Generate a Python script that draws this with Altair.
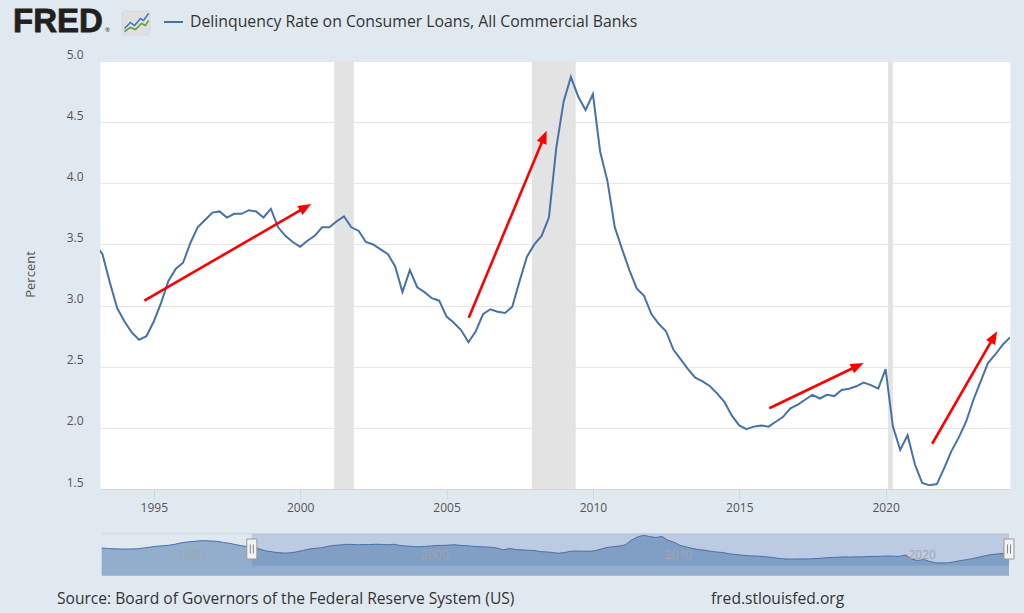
import math
import altair as alt
import pandas as pd

# Delinquency rate on consumer loans, all commercial banks (percent, quarterly, 1993Q1-2024Q2)
rate = [
    3.50, 3.42, 3.19, 2.98,   # 1993
    2.87, 2.78, 2.72, 2.75,   # 1994
    2.87, 3.02, 3.20, 3.30,   # 1995
    3.35, 3.51, 3.64, 3.70,   # 1996
    3.76, 3.77, 3.72, 3.75,   # 1997
    3.75, 3.78, 3.77, 3.72,   # 1998
    3.79, 3.64, 3.57, 3.52,   # 1999
    3.48, 3.53, 3.57, 3.64,   # 2000
    3.64, 3.69, 3.73, 3.64,   # 2001
    3.61, 3.52, 3.50, 3.46,   # 2002
    3.42, 3.32, 3.11, 3.29,   # 2003
    3.15, 3.11, 3.06, 3.04,   # 2004
    2.91, 2.86, 2.80, 2.70,   # 2005
    2.79, 2.93, 2.97, 2.95,   # 2006
    2.94, 2.99, 3.20, 3.40,   # 2007
    3.50, 3.57, 3.72, 4.29,   # 2008
    4.67, 4.87, 4.71, 4.60,   # 2009
    4.73, 4.26, 4.02, 3.64,   # 2010
    3.46, 3.29, 3.14, 3.08,   # 2011
    2.93, 2.85, 2.79, 2.64,   # 2012
    2.56, 2.48, 2.41, 2.38,   # 2013
    2.34, 2.28, 2.21, 2.10,   # 2014
    2.02, 1.99, 2.01, 2.02,   # 2015
    2.01, 2.05, 2.09, 2.16,   # 2016
    2.19, 2.23, 2.27, 2.24,   # 2017
    2.27, 2.26, 2.31, 2.32,   # 2018
    2.34, 2.37, 2.35, 2.32,   # 2019
    2.48, 2.01, 1.82, 1.94,   # 2020
    1.70, 1.55, 1.53, 1.54,   # 2021
    1.67, 1.81, 1.92, 2.05,   # 2022
    2.23, 2.38, 2.53, 2.60,   # 2023
    2.68, 2.74,               # 2024
]

# Earlier history, only visible in the range navigator (1987Q1-1992Q4)
early_rate = [
    3.33, 3.28, 3.24, 3.21,
    3.21, 3.22, 3.25, 3.35,
    3.45, 3.55, 3.60, 3.66,
    3.78, 3.95, 4.06, 4.12,
    4.20, 4.22, 4.18, 4.14,
    4.00, 3.90, 3.75, 3.60,
]

# Recessions (shaded)
recession_start = ["2001-03-01", "2007-12-01", "2020-02-01"]
recession_end = ["2001-11-01", "2009-06-01", "2020-04-01"]

# Trend arrows
arrow_from_date = ["1994-09-05", "2005-10-05", "2016-01-11", "2021-08-04"]
arrow_from_value = [3.04, 2.90, 2.16, 1.87]
arrow_to_date = ["2000-05-18", "2008-06-03", "2019-04-01", "2023-10-23"]
arrow_to_value = [3.83, 4.43, 2.53, 2.79]

year_ticks = [1995, 2000, 2005, 2010, 2015, 2020]
nav_ticks = [1990, 2000, 2010, 2020]
y_ticks = [1.5, 2.0, 2.5, 3.0, 3.5, 4.0, 4.5, 5.0]

view_start = "1993-03-01"
view_end = "2024-04-01"
nav_start = "1987-01-01"

PLOT_W, PLOT_H = 910, 428
Y_LO, Y_HI = 1.5, 5.0
LINE_BLUE = "#4572a7"
TEXT = "#555555"

dates = pd.date_range("1993-01-01", periods=len(rate), freq="QS")
series = pd.DataFrame({"date": dates.strftime("%Y-%m-%d"), "rate": rate})

nav_dates = pd.date_range(nav_start, periods=len(early_rate) + len(rate), freq="QS")
nav_series = pd.DataFrame({"date": nav_dates.strftime("%Y-%m-%d"), "rate": early_rate + rate})

recessions = pd.DataFrame({"start": recession_start, "end": recession_end})

# arrow geometry: shaft stops under the head, head rotated along the shaft
x_lo, x_hi = pd.Timestamp(view_start), pd.Timestamp(view_end)


def px(t):
    return (pd.Timestamp(t) - x_lo) / (x_hi - x_lo) * PLOT_W


def py(v):
    return (Y_HI - v) / (Y_HI - Y_LO) * PLOT_H


HEAD = 13
rows = []
for t0, v0, t1, v1 in zip(arrow_from_date, arrow_from_value, arrow_to_date, arrow_to_value):
    dx = px(t1) - px(t0)
    dy = py(v1) - py(v0)
    length = math.hypot(dx, dy)
    frac = (length - HEAD * 0.75) / length
    a, b = pd.Timestamp(t0), pd.Timestamp(t1)
    rows.append({
        "t0": t0, "v0": v0, "t1": t1, "v1": v1,
        "tb": (a + (b - a) * frac).strftime("%Y-%m-%d"),
        "vb": v0 + (v1 - v0) * frac,
        "angle": math.degrees(math.atan2(dx, -dy)) % 360,
    })
arrows = pd.DataFrame(rows)


def dt(s):
    t = pd.Timestamp(s)
    return alt.DateTime(year=t.year, month=t.month, date=t.day)


x_scale = alt.Scale(domain=[dt(view_start), dt(view_end)])
y_scale = alt.Scale(domain=[Y_LO, Y_HI], nice=False, zero=False)

x_axis = alt.Axis(
    values=[alt.DateTime(year=y, month=1, date=1) for y in year_ticks],
    format="%Y", title=None, grid=False,
    domainColor="#ccd6eb", tickColor="#ccd6eb", tickSize=10,
    labelPadding=3, labelColor=TEXT, labelFontSize=12, labelFlush=False,
)
y_axis = alt.Axis(
    values=y_ticks, format=".1f", title="Percent",
    grid=True, gridColor="#e6e6e6", domain=False, ticks=False,
    labelPadding=17, labelOffset=-7, labelColor=TEXT, labelFontSize=12,
    labelFlush=False,
    titleX=-70, titleY=213, titleAngle=270, titleAlign="center", titleBaseline="middle",
    titleColor=TEXT, titleFontSize=13, titleFontWeight="normal",
)


def X(field):
    return alt.X(field, type="temporal", scale=x_scale, axis=x_axis)


def Y(field):
    return alt.Y(field, type="quantitative", scale=y_scale, axis=y_axis)


recession_layer = alt.Chart(recessions).mark_rect(color="#e3e3e3").encode(
    x=X("start"), x2="end"
)

line_layer = alt.Chart(series).mark_line(color=LINE_BLUE, strokeWidth=2, clip=True).encode(
    x=X("date"), y=Y("rate")
)

shaft_layer = alt.Chart(arrows).mark_rule(color="#ff0000", strokeWidth=2.6).encode(
    x=X("t0"), y=Y("v0"), x2="tb", y2="vb"
)

head_layer = alt.Chart(arrows).mark_point(
    shape="M0,0L0.4,1L-0.4,1Z", filled=True, fill="#ff0000", strokeWidth=0,
    size=(2 * HEAD) ** 2, opacity=1,
).encode(x=X("t1"), y=Y("v1"), angle=alt.Angle("angle:Q", scale=None))

main = alt.layer(recession_layer, line_layer, shaft_layer, head_layer)

# ---- range navigator under the plot ----
NAV_TOP, NAV_BOT = 472.7, 504.7
nav_x = alt.Scale(domain=[dt(nav_start), dt(view_end)], range=[1.7, 909])
nav_y = alt.Scale(domain=[1.2, 5.06], range=[NAV_BOT, NAV_TOP], nice=False, zero=False)

window = pd.DataFrame({"start": [view_start], "end": [view_end]})
edges = pd.DataFrame({"date": [view_start, view_end]})
nav_labels = pd.DataFrame({"date": [f"{y}-01-01" for y in nav_ticks], "label": [str(y) for y in nav_ticks]})


def NX(field):
    return alt.X(field, type="temporal", scale=nav_x, axis=None)


nav_outline = alt.Chart(window).mark_rule(color="#cfd6de", strokeWidth=1).encode(
    x=alt.value(1.7), x2=alt.value(909), y=alt.value(NAV_TOP)
)
nav_mask = alt.Chart(window).mark_rect(color="#6685c2", opacity=0.3).encode(
    x=NX("start"), x2="end", y=alt.value(NAV_TOP), y2=alt.value(NAV_BOT)
)
nav_area = alt.Chart(nav_series).mark_area(color=LINE_BLUE, opacity=0.5).encode(
    x=NX("date"), y=alt.Y("rate:Q", scale=nav_y, axis=None), y2=alt.value(NAV_BOT)
)
nav_line = alt.Chart(nav_series).mark_line(color=LINE_BLUE, strokeWidth=1).encode(
    x=NX("date"), y=alt.Y("rate:Q", scale=nav_y, axis=None)
)
nav_text = alt.Chart(nav_labels).mark_text(
    align="left", baseline="middle", dx=3, fontSize=12, color="#9ea6b0"
).encode(x=NX("date"), y=alt.value(494), text="label:N")
nav_handle = alt.Chart(edges).mark_point(
    shape="M-0.5,-1H0.5V1H-0.5Z", filled=True, fill="#f2f2f2", stroke="#999999",
    strokeWidth=1, size=400, opacity=1,
).encode(x=NX("date"), y=alt.value(488))
nav_grip = alt.Chart(edges).mark_point(
    shape="M-0.15,-0.45V0.45M0.15,-0.45V0.45", filled=False, stroke="#888888",
    strokeWidth=1, size=400, opacity=1,
).encode(x=NX("date"), y=alt.value(488))

navigator = alt.layer(nav_outline, nav_mask, nav_area, nav_line, nav_text, nav_handle, nav_grip)

# ---- header and footer ----
def label(text, x, y, **kw):
    return alt.Chart(pd.DataFrame({"t": [text]})).mark_text(**kw).encode(
        x=alt.value(x), y=alt.value(y), text="t:N"
    )


logo = label("FRED", -87, -39, align="left", baseline="middle", font="Liberation Sans",
             fontSize=33, fontWeight="bold", color="#231f20", stroke="#231f20", strokeWidth=0.8)
reg = label("®", 5, -31, align="left", baseline="middle", fontSize=6, color="#231f20")
icon_box = alt.Chart(pd.DataFrame({"t": ["icon"]})).mark_rect(
    fill="#e0e0e0", cornerRadius=2, stroke="#cfcfcf", strokeWidth=0.5
).encode(x=alt.value(22), x2=alt.value(50), y=alt.value(-50), y2=alt.value(-26))
icon_blue = alt.Chart(pd.DataFrame({"t": ["icon"]})).mark_point(
    shape="M-0.85,0.41L-0.41,-0.04L-0.11,0.19L0.33,-0.33L0.56,-0.19L0.93,-0.7",
    filled=False, stroke="#3f78c0", strokeWidth=1.6, size=729, opacity=1,
).encode(x=alt.value(36), y=alt.value(-38))
icon_green = alt.Chart(pd.DataFrame({"t": ["icon"]})).mark_point(
    shape="M-0.85,0.63L-0.41,0.33L-0.04,0.48L0.41,0.04L0.7,0.19L0.93,-0.19",
    filled=False, stroke="#5aa03c", strokeWidth=1.6, size=729, opacity=1,
).encode(x=alt.value(36), y=alt.value(-38))

legend_swatch = alt.Chart(pd.DataFrame({"t": ["swatch"]})).mark_rule(
    color=LINE_BLUE, strokeWidth=2
).encode(x=alt.value(64), x2=alt.value(83), y=alt.value(-39))
legend_text = label("Delinquency Rate on Consumer Loans, All Commercial Banks", 90, -39,
                    align="left", baseline="middle", fontSize=15.8, color="#333333")

source = label("Source: Board of Governors of the Federal Reserve System (US)", -43, 538,
               align="left", baseline="middle", fontSize=15.6, color="#333333")
site = label("fred.stlouisfed.org", 611, 538,
             align="left", baseline="middle", fontSize=15.6, color="#333333")

decor = alt.layer(logo, reg, icon_box, icon_blue, icon_green, legend_swatch, legend_text, source, site)

chart = alt.layer(main, navigator, decor).resolve_scale(
    x="independent", y="independent"
).properties(
    width=PLOT_W, height=PLOT_H,
    padding={"left": 100, "top": 61, "right": 14, "bottom": 124},
    autosize=alt.AutoSizeParams(type="none"),
    background="#e1e9f0",
).configure(font="Open Sans").configure_view(fill="white", stroke="transparent")

chart.save("out.html", embed_options={"renderer": "svg", "actions": False})
